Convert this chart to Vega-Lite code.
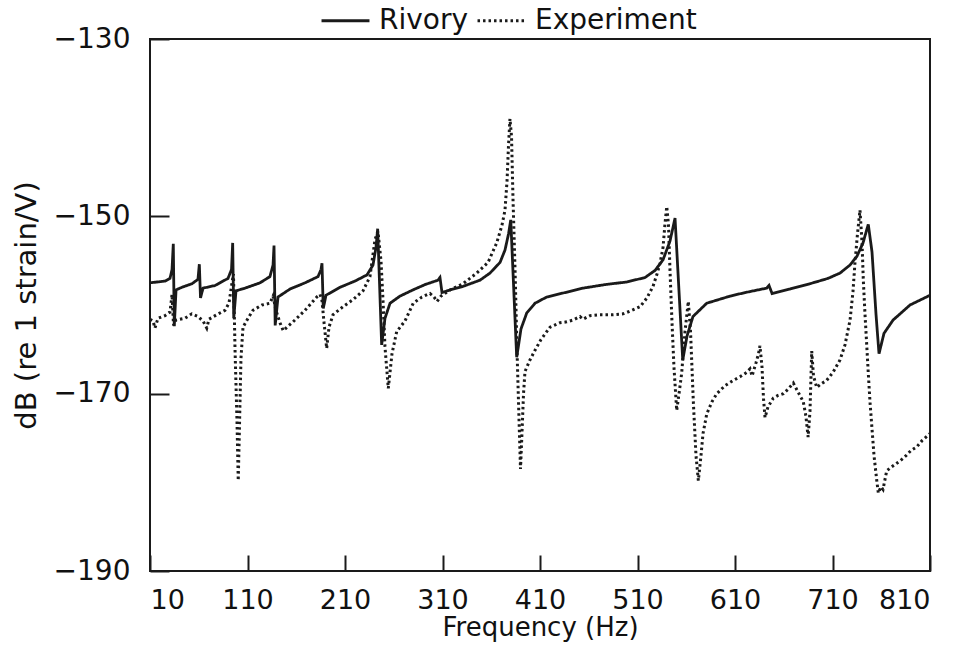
{
  "$schema": "https://vega.github.io/schema/vega-lite/v6.json",
  "width": 780,
  "height": 532,
  "autosize": {"type": "none"},
  "padding": {"left": 150, "top": 39, "right": 35, "bottom": 74},
  "background": "white",
  "config": {
    "view": {"stroke": "#1a1a1a", "strokeWidth": 2},
    "font": "DejaVu Sans",
    "axis": {
      "grid": false,
      "domain": false,
      "tickColor": "#1a1a1a",
      "tickWidth": 2,
      "labelColor": "#111",
      "titleColor": "#111",
      "labelFont": "DejaVu Sans",
      "titleFont": "DejaVu Sans",
      "labelFontWeight": "normal",
      "titleFontWeight": "normal"
    }
  },
  "data": {
    "values": [
      {"f": 10, "dB": -157.5, "series": "Rivory"},
      {"f": 25.4, "dB": -157.3, "series": "Rivory"},
      {"f": 30.5, "dB": -157.0, "series": "Rivory"},
      {"f": 32.6, "dB": -156.0, "series": "Rivory"},
      {"f": 33.9, "dB": -153.1, "series": "Rivory"},
      {"f": 34.9, "dB": -162.4, "series": "Rivory"},
      {"f": 36.7, "dB": -158.3, "series": "Rivory"},
      {"f": 42.8, "dB": -158.0, "series": "Rivory"},
      {"f": 53.1, "dB": -157.6, "series": "Rivory"},
      {"f": 59.2, "dB": -157.1, "series": "Rivory"},
      {"f": 60.6, "dB": -155.4, "series": "Rivory"},
      {"f": 61.8, "dB": -159.2, "series": "Rivory"},
      {"f": 64.4, "dB": -158.1, "series": "Rivory"},
      {"f": 76.7, "dB": -157.8, "series": "Rivory"},
      {"f": 90.0, "dB": -157.0, "series": "Rivory"},
      {"f": 93.6, "dB": -156.0, "series": "Rivory"},
      {"f": 94.8, "dB": -153.0, "series": "Rivory"},
      {"f": 95.9, "dB": -161.5, "series": "Rivory"},
      {"f": 98.2, "dB": -158.4, "series": "Rivory"},
      {"f": 107.4, "dB": -158.1, "series": "Rivory"},
      {"f": 122.8, "dB": -157.5, "series": "Rivory"},
      {"f": 133.0, "dB": -156.8, "series": "Rivory"},
      {"f": 136.2, "dB": -155.5, "series": "Rivory"},
      {"f": 137.2, "dB": -153.3, "series": "Rivory"},
      {"f": 138.4, "dB": -162.3, "series": "Rivory"},
      {"f": 141.3, "dB": -159.1, "series": "Rivory"},
      {"f": 153.6, "dB": -158.2, "series": "Rivory"},
      {"f": 169.0, "dB": -157.5, "series": "Rivory"},
      {"f": 182.3, "dB": -156.8, "series": "Rivory"},
      {"f": 185.4, "dB": -156.0, "series": "Rivory"},
      {"f": 186.4, "dB": -155.3, "series": "Rivory"},
      {"f": 187.7, "dB": -160.4, "series": "Rivory"},
      {"f": 190.5, "dB": -158.9, "series": "Rivory"},
      {"f": 204.9, "dB": -158.0, "series": "Rivory"},
      {"f": 220.3, "dB": -157.3, "series": "Rivory"},
      {"f": 232.6, "dB": -156.6, "series": "Rivory"},
      {"f": 238.7, "dB": -155.5, "series": "Rivory"},
      {"f": 241.8, "dB": -153.5, "series": "Rivory"},
      {"f": 243.5, "dB": -151.4, "series": "Rivory"},
      {"f": 247.6, "dB": -164.5, "series": "Rivory"},
      {"f": 251.0, "dB": -161.5, "series": "Rivory"},
      {"f": 256.2, "dB": -159.8, "series": "Rivory"},
      {"f": 266.4, "dB": -159.0, "series": "Rivory"},
      {"f": 279.7, "dB": -158.3, "series": "Rivory"},
      {"f": 292.0, "dB": -157.7, "series": "Rivory"},
      {"f": 305.4, "dB": -157.2, "series": "Rivory"},
      {"f": 307.4, "dB": -156.9, "series": "Rivory"},
      {"f": 309.5, "dB": -158.6, "series": "Rivory"},
      {"f": 317.7, "dB": -158.3, "series": "Rivory"},
      {"f": 331.0, "dB": -157.9, "series": "Rivory"},
      {"f": 348.5, "dB": -157.2, "series": "Rivory"},
      {"f": 358.7, "dB": -156.4, "series": "Rivory"},
      {"f": 369.0, "dB": -155.2, "series": "Rivory"},
      {"f": 374.1, "dB": -153.8, "series": "Rivory"},
      {"f": 377.7, "dB": -152.0, "series": "Rivory"},
      {"f": 380.0, "dB": -150.4, "series": "Rivory"},
      {"f": 386.1, "dB": -165.9, "series": "Rivory"},
      {"f": 390.5, "dB": -162.7, "series": "Rivory"},
      {"f": 396.4, "dB": -160.9, "series": "Rivory"},
      {"f": 404.9, "dB": -159.8, "series": "Rivory"},
      {"f": 416.9, "dB": -159.1, "series": "Rivory"},
      {"f": 435.6, "dB": -158.6, "series": "Rivory"},
      {"f": 454.1, "dB": -158.1, "series": "Rivory"},
      {"f": 476.7, "dB": -157.7, "series": "Rivory"},
      {"f": 499.2, "dB": -157.4, "series": "Rivory"},
      {"f": 517.7, "dB": -156.9, "series": "Rivory"},
      {"f": 528.0, "dB": -156.1, "series": "Rivory"},
      {"f": 536.2, "dB": -154.9, "series": "Rivory"},
      {"f": 543.3, "dB": -152.8, "series": "Rivory"},
      {"f": 548.5, "dB": -150.2, "series": "Rivory"},
      {"f": 556.4, "dB": -166.2, "series": "Rivory"},
      {"f": 560.8, "dB": -163.5, "series": "Rivory"},
      {"f": 566.9, "dB": -161.3, "series": "Rivory"},
      {"f": 581.0, "dB": -159.8, "series": "Rivory"},
      {"f": 604.9, "dB": -159.0, "series": "Rivory"},
      {"f": 620.3, "dB": -158.6, "series": "Rivory"},
      {"f": 642.5, "dB": -158.1, "series": "Rivory"},
      {"f": 644.9, "dB": -157.8, "series": "Rivory"},
      {"f": 648.0, "dB": -158.7, "series": "Rivory"},
      {"f": 666.4, "dB": -158.2, "series": "Rivory"},
      {"f": 686.9, "dB": -157.6, "series": "Rivory"},
      {"f": 705.4, "dB": -157.0, "series": "Rivory"},
      {"f": 717.7, "dB": -156.4, "series": "Rivory"},
      {"f": 727.9, "dB": -155.5, "series": "Rivory"},
      {"f": 735.1, "dB": -154.5, "series": "Rivory"},
      {"f": 741.3, "dB": -153.0, "series": "Rivory"},
      {"f": 746.7, "dB": -150.9, "series": "Rivory"},
      {"f": 750.5, "dB": -154.0, "series": "Rivory"},
      {"f": 754.6, "dB": -161.0, "series": "Rivory"},
      {"f": 757.7, "dB": -165.5, "series": "Rivory"},
      {"f": 762.8, "dB": -163.2, "series": "Rivory"},
      {"f": 772.1, "dB": -161.7, "series": "Rivory"},
      {"f": 789.5, "dB": -160.0, "series": "Rivory"},
      {"f": 810.0, "dB": -158.9, "series": "Rivory"},

      {"f": 10, "dB": -161.6, "series": "Experiment"},
      {"f": 13.1, "dB": -161.8, "series": "Experiment"},
      {"f": 15.1, "dB": -162.6, "series": "Experiment"},
      {"f": 18.2, "dB": -161.5, "series": "Experiment"},
      {"f": 25.4, "dB": -161.2, "series": "Experiment"},
      {"f": 30.5, "dB": -160.8, "series": "Experiment"},
      {"f": 32.6, "dB": -158.8, "series": "Experiment"},
      {"f": 34.1, "dB": -162.3, "series": "Experiment"},
      {"f": 36.7, "dB": -161.7, "series": "Experiment"},
      {"f": 45.9, "dB": -161.5, "series": "Experiment"},
      {"f": 52.8, "dB": -161.0, "series": "Experiment"},
      {"f": 59.2, "dB": -161.3, "series": "Experiment"},
      {"f": 64.4, "dB": -161.8, "series": "Experiment"},
      {"f": 68.2, "dB": -162.6, "series": "Experiment"},
      {"f": 70.5, "dB": -161.6, "series": "Experiment"},
      {"f": 78.4, "dB": -161.1, "series": "Experiment"},
      {"f": 86.9, "dB": -160.6, "series": "Experiment"},
      {"f": 91.0, "dB": -159.8, "series": "Experiment"},
      {"f": 94.1, "dB": -157.5, "series": "Experiment"},
      {"f": 95.6, "dB": -156.5, "series": "Experiment"},
      {"f": 97.2, "dB": -165.0, "series": "Experiment"},
      {"f": 99.2, "dB": -173.0, "series": "Experiment"},
      {"f": 100.5, "dB": -179.8, "series": "Experiment"},
      {"f": 101.7, "dB": -174.0, "series": "Experiment"},
      {"f": 103.3, "dB": -166.0, "series": "Experiment"},
      {"f": 105.4, "dB": -162.5, "series": "Experiment"},
      {"f": 110.5, "dB": -161.5, "series": "Experiment"},
      {"f": 115.6, "dB": -160.6, "series": "Experiment"},
      {"f": 124.9, "dB": -160.0, "series": "Experiment"},
      {"f": 133.1, "dB": -159.8, "series": "Experiment"},
      {"f": 136.2, "dB": -159.0, "series": "Experiment"},
      {"f": 139.2, "dB": -160.6, "series": "Experiment"},
      {"f": 143.3, "dB": -162.0, "series": "Experiment"},
      {"f": 146.7, "dB": -162.9, "series": "Experiment"},
      {"f": 151.5, "dB": -162.4, "series": "Experiment"},
      {"f": 156.7, "dB": -161.9, "series": "Experiment"},
      {"f": 169.0, "dB": -160.6, "series": "Experiment"},
      {"f": 181.0, "dB": -159.1, "series": "Experiment"},
      {"f": 184.4, "dB": -158.8, "series": "Experiment"},
      {"f": 186.4, "dB": -159.5, "series": "Experiment"},
      {"f": 188.5, "dB": -162.0, "series": "Experiment"},
      {"f": 191.2, "dB": -164.9, "series": "Experiment"},
      {"f": 193.6, "dB": -162.5, "series": "Experiment"},
      {"f": 197.7, "dB": -161.1, "series": "Experiment"},
      {"f": 207.9, "dB": -160.2, "series": "Experiment"},
      {"f": 218.2, "dB": -159.4, "series": "Experiment"},
      {"f": 228.5, "dB": -158.4, "series": "Experiment"},
      {"f": 235.6, "dB": -156.8, "series": "Experiment"},
      {"f": 240.8, "dB": -152.6, "series": "Experiment"},
      {"f": 243.8, "dB": -151.7, "series": "Experiment"},
      {"f": 246.9, "dB": -155.0, "series": "Experiment"},
      {"f": 249.0, "dB": -159.5, "series": "Experiment"},
      {"f": 251.0, "dB": -164.7, "series": "Experiment"},
      {"f": 254.4, "dB": -169.4, "series": "Experiment"},
      {"f": 258.2, "dB": -165.5, "series": "Experiment"},
      {"f": 263.0, "dB": -163.0, "series": "Experiment"},
      {"f": 271.5, "dB": -161.8, "series": "Experiment"},
      {"f": 280.0, "dB": -159.8, "series": "Experiment"},
      {"f": 288.9, "dB": -159.1, "series": "Experiment"},
      {"f": 297.2, "dB": -158.7, "series": "Experiment"},
      {"f": 301.3, "dB": -159.1, "series": "Experiment"},
      {"f": 304.4, "dB": -159.6, "series": "Experiment"},
      {"f": 308.5, "dB": -159.0, "series": "Experiment"},
      {"f": 317.7, "dB": -158.3, "series": "Experiment"},
      {"f": 331.0, "dB": -157.6, "series": "Experiment"},
      {"f": 345.1, "dB": -156.4, "series": "Experiment"},
      {"f": 356.7, "dB": -155.2, "series": "Experiment"},
      {"f": 365.6, "dB": -153.0, "series": "Experiment"},
      {"f": 371.0, "dB": -151.0, "series": "Experiment"},
      {"f": 374.1, "dB": -149.3, "series": "Experiment"},
      {"f": 376.2, "dB": -146.0, "series": "Experiment"},
      {"f": 377.7, "dB": -142.0, "series": "Experiment"},
      {"f": 379.2, "dB": -139.0, "series": "Experiment"},
      {"f": 380.8, "dB": -141.0, "series": "Experiment"},
      {"f": 382.3, "dB": -148.0, "series": "Experiment"},
      {"f": 384.4, "dB": -156.0, "series": "Experiment"},
      {"f": 386.4, "dB": -165.0, "series": "Experiment"},
      {"f": 388.5, "dB": -173.0, "series": "Experiment"},
      {"f": 390.0, "dB": -178.5, "series": "Experiment"},
      {"f": 391.5, "dB": -174.5, "series": "Experiment"},
      {"f": 393.1, "dB": -170.0, "series": "Experiment"},
      {"f": 394.6, "dB": -167.5, "series": "Experiment"},
      {"f": 399.7, "dB": -166.2, "series": "Experiment"},
      {"f": 404.9, "dB": -165.1, "series": "Experiment"},
      {"f": 411.0, "dB": -163.9, "series": "Experiment"},
      {"f": 420.3, "dB": -162.5, "series": "Experiment"},
      {"f": 430.5, "dB": -162.0, "series": "Experiment"},
      {"f": 437.4, "dB": -161.9, "series": "Experiment"},
      {"f": 443.8, "dB": -161.7, "series": "Experiment"},
      {"f": 451.0, "dB": -161.3, "series": "Experiment"},
      {"f": 454.1, "dB": -161.6, "series": "Experiment"},
      {"f": 461.3, "dB": -161.2, "series": "Experiment"},
      {"f": 471.5, "dB": -161.1, "series": "Experiment"},
      {"f": 483.8, "dB": -161.1, "series": "Experiment"},
      {"f": 495.1, "dB": -161.0, "series": "Experiment"},
      {"f": 504.4, "dB": -160.6, "series": "Experiment"},
      {"f": 512.6, "dB": -160.2, "series": "Experiment"},
      {"f": 519.7, "dB": -159.2, "series": "Experiment"},
      {"f": 525.9, "dB": -157.9, "series": "Experiment"},
      {"f": 530.0, "dB": -156.5, "series": "Experiment"},
      {"f": 533.1, "dB": -155.3, "series": "Experiment"},
      {"f": 536.2, "dB": -153.5, "series": "Experiment"},
      {"f": 538.2, "dB": -150.8, "series": "Experiment"},
      {"f": 540.0, "dB": -148.9, "series": "Experiment"},
      {"f": 541.8, "dB": -151.0, "series": "Experiment"},
      {"f": 543.3, "dB": -156.0, "series": "Experiment"},
      {"f": 545.4, "dB": -162.0, "series": "Experiment"},
      {"f": 547.4, "dB": -167.0, "series": "Experiment"},
      {"f": 550.2, "dB": -171.9, "series": "Experiment"},
      {"f": 552.6, "dB": -170.0, "series": "Experiment"},
      {"f": 555.3, "dB": -167.7, "series": "Experiment"},
      {"f": 558.7, "dB": -163.0, "series": "Experiment"},
      {"f": 562.1, "dB": -159.6, "series": "Experiment"},
      {"f": 564.4, "dB": -163.0, "series": "Experiment"},
      {"f": 567.3, "dB": -171.0, "series": "Experiment"},
      {"f": 570.0, "dB": -177.0, "series": "Experiment"},
      {"f": 572.4, "dB": -179.8, "series": "Experiment"},
      {"f": 575.1, "dB": -177.0, "series": "Experiment"},
      {"f": 577.2, "dB": -174.5, "series": "Experiment"},
      {"f": 581.0, "dB": -172.3, "series": "Experiment"},
      {"f": 586.4, "dB": -170.9, "series": "Experiment"},
      {"f": 591.3, "dB": -170.0, "series": "Experiment"},
      {"f": 599.7, "dB": -169.1, "series": "Experiment"},
      {"f": 608.3, "dB": -168.5, "series": "Experiment"},
      {"f": 615.1, "dB": -168.1, "series": "Experiment"},
      {"f": 622.0, "dB": -167.6, "series": "Experiment"},
      {"f": 625.4, "dB": -167.2, "series": "Experiment"},
      {"f": 627.5, "dB": -168.0, "series": "Experiment"},
      {"f": 631.6, "dB": -166.5, "series": "Experiment"},
      {"f": 634.1, "dB": -165.5, "series": "Experiment"},
      {"f": 635.6, "dB": -164.6, "series": "Experiment"},
      {"f": 637.7, "dB": -167.0, "series": "Experiment"},
      {"f": 639.2, "dB": -170.5, "series": "Experiment"},
      {"f": 640.8, "dB": -172.7, "series": "Experiment"},
      {"f": 643.8, "dB": -171.5, "series": "Experiment"},
      {"f": 649.3, "dB": -170.5, "series": "Experiment"},
      {"f": 654.1, "dB": -170.2, "series": "Experiment"},
      {"f": 659.6, "dB": -170.0, "series": "Experiment"},
      {"f": 664.4, "dB": -169.5, "series": "Experiment"},
      {"f": 669.8, "dB": -168.8, "series": "Experiment"},
      {"f": 674.6, "dB": -169.8, "series": "Experiment"},
      {"f": 680.0, "dB": -170.9, "series": "Experiment"},
      {"f": 682.7, "dB": -172.5, "series": "Experiment"},
      {"f": 685.0, "dB": -174.9, "series": "Experiment"},
      {"f": 686.9, "dB": -172.0, "series": "Experiment"},
      {"f": 688.7, "dB": -165.2, "series": "Experiment"},
      {"f": 690.5, "dB": -168.0, "series": "Experiment"},
      {"f": 693.8, "dB": -169.3, "series": "Experiment"},
      {"f": 698.2, "dB": -168.9, "series": "Experiment"},
      {"f": 704.0, "dB": -168.5, "series": "Experiment"},
      {"f": 710.5, "dB": -167.6, "series": "Experiment"},
      {"f": 717.7, "dB": -166.2, "series": "Experiment"},
      {"f": 722.8, "dB": -164.5, "series": "Experiment"},
      {"f": 728.0, "dB": -161.7, "series": "Experiment"},
      {"f": 731.0, "dB": -158.5, "series": "Experiment"},
      {"f": 733.0, "dB": -155.3, "series": "Experiment"},
      {"f": 735.6, "dB": -152.0, "series": "Experiment"},
      {"f": 738.2, "dB": -149.3, "series": "Experiment"},
      {"f": 740.3, "dB": -153.0, "series": "Experiment"},
      {"f": 741.6, "dB": -157.2, "series": "Experiment"},
      {"f": 743.3, "dB": -161.0, "series": "Experiment"},
      {"f": 745.1, "dB": -164.5, "series": "Experiment"},
      {"f": 746.7, "dB": -167.7, "series": "Experiment"},
      {"f": 748.5, "dB": -171.0, "series": "Experiment"},
      {"f": 750.2, "dB": -173.5, "series": "Experiment"},
      {"f": 752.6, "dB": -177.0, "series": "Experiment"},
      {"f": 755.4, "dB": -179.8, "series": "Experiment"},
      {"f": 757.0, "dB": -181.2, "series": "Experiment"},
      {"f": 759.7, "dB": -180.5, "series": "Experiment"},
      {"f": 761.8, "dB": -180.8, "series": "Experiment"},
      {"f": 765.6, "dB": -178.7, "series": "Experiment"},
      {"f": 770.1, "dB": -178.3, "series": "Experiment"},
      {"f": 775.2, "dB": -177.9, "series": "Experiment"},
      {"f": 779.2, "dB": -177.6, "series": "Experiment"},
      {"f": 785.4, "dB": -177.0, "series": "Experiment"},
      {"f": 790.6, "dB": -176.4, "series": "Experiment"},
      {"f": 796.4, "dB": -176.0, "series": "Experiment"},
      {"f": 801.8, "dB": -175.3, "series": "Experiment"},
      {"f": 805.9, "dB": -174.9, "series": "Experiment"},
      {"f": 810.0, "dB": -174.5, "series": "Experiment"}
    ]
  },
  "mark": {"type": "line", "color": "#1a1a1a", "clip": true, "strokeCap": "butt"},
  "encoding": {
    "x": {
      "field": "f",
      "type": "quantitative",
      "scale": {"domain": [10, 810], "nice": false, "zero": false},
      "axis": {
        "values": [10, 110, 210, 310, 410, 510, 610, 710, 810],
        "title": "Frequency (Hz)",
        "tickSize": -16,
        "labelPadding": 32,
        "labelFontSize": 27,
        "titleFontSize": 26,
        "titlePadding": 1
      }
    },
    "y": {
      "field": "dB",
      "type": "quantitative",
      "scale": {"domain": [-190, -130], "nice": false, "zero": false},
      "axis": {
        "values": [-190, -170, -150, -130],
        "title": "dB (re 1 strain/V)",
        "tickSize": -19,
        "labelPadding": 39,
        "labelFontSize": 28,
        "titleFontSize": 29,
        "titlePadding": 12
      }
    },
    "strokeDash": {
      "field": "series",
      "type": "nominal",
      "scale": {"domain": ["Rivory", "Experiment"], "range": [[1, 0], [2.5, 3]]},
      "legend": {
        "title": null,
        "orient": "none",
        "legendX": 170,
        "legendY": -44,
        "direction": "horizontal",
        "symbolType": "stroke",
        "symbolStrokeColor": "#1a1a1a",
        "symbolStrokeWidth": 2.8,
        "symbolSize": 2300,
        "labelFontSize": 28,
        "labelLimit": 400,
        "labelColor": "#111",
        "labelOffset": 8,
        "columnPadding": 2,
        "padding": 0
      }
    },
    "strokeWidth": {
      "field": "series",
      "type": "nominal",
      "scale": {"domain": ["Rivory", "Experiment"], "range": [2.8, 3]},
      "legend": null
    }
  }
}
